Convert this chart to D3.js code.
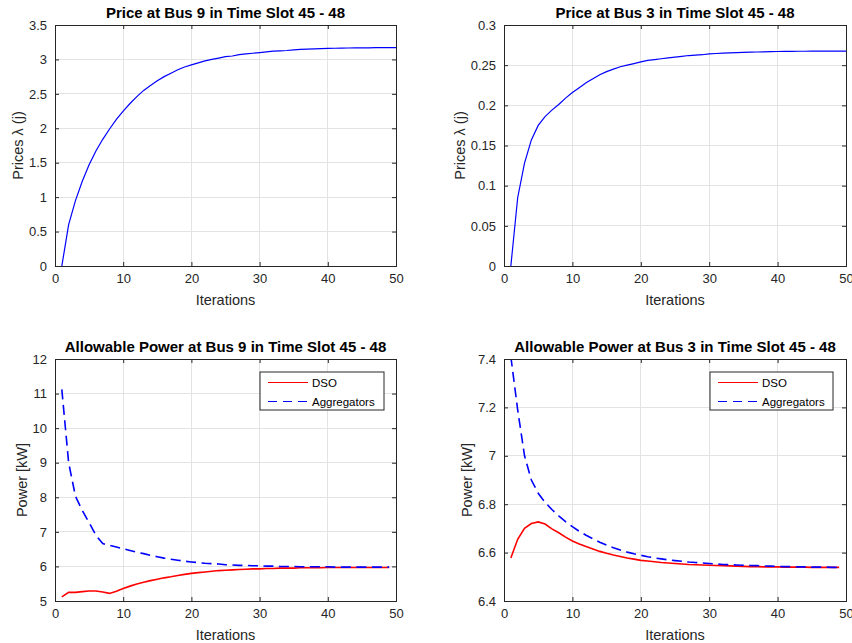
<!DOCTYPE html>
<html><head><meta charset="utf-8">
<script src="https://cdn.jsdelivr.net/npm/d3@7"></script>
<style>
body{margin:0;background:#fff;}
text{font-family:"Liberation Sans",Arial,Helvetica,sans-serif;}
</style></head>
<body><svg id="c" width="852" height="643"></svg>
<script>
const iterPrice = d3.range(1, 51);
const iterPower = d3.range(1, 50);

const priceBus9 = [0,0.60,0.95,1.23,1.47,1.67,1.84,1.99,2.13,2.25,2.36,2.46,2.55,2.62,2.69,2.75,2.80,2.85,2.89,2.92,2.95,2.98,3.00,3.02,3.04,3.05,3.07,3.08,3.09,3.10,3.11,3.12,3.125,3.13,3.14,3.145,3.15,3.153,3.156,3.16,3.162,3.164,3.166,3.167,3.168,3.169,3.17,3.17,3.171,3.171];
const priceBus3 = [0,0.085,0.128,0.157,0.175,0.186,0.194,0.201,0.209,0.216,0.222,0.228,0.233,0.238,0.242,0.245,0.248,0.250,0.252,0.254,0.256,0.257,0.258,0.259,0.260,0.261,0.262,0.2625,0.263,0.264,0.2645,0.265,0.2653,0.2656,0.266,0.2662,0.2664,0.2666,0.2668,0.267,0.2671,0.2672,0.2673,0.2673,0.2674,0.2674,0.2675,0.2675,0.2676,0.2676];

const dsoBus9 = [5.12,5.25,5.25,5.27,5.29,5.29,5.26,5.22,5.28,5.36,5.43,5.49,5.54,5.59,5.63,5.67,5.70,5.74,5.77,5.80,5.82,5.84,5.86,5.88,5.89,5.90,5.91,5.92,5.93,5.93,5.94,5.94,5.95,5.95,5.95,5.96,5.96,5.96,5.96,5.97,5.97,5.97,5.97,5.97,5.97,5.97,5.97,5.97,5.97];
const aggBus9 = [11.12,9.0,8.03,7.62,7.27,6.90,6.66,6.61,6.56,6.51,6.46,6.41,6.37,6.32,6.28,6.24,6.21,6.18,6.15,6.13,6.11,6.09,6.08,6.07,6.05,6.04,6.03,6.03,6.02,6.02,6.01,6.01,6.00,6.00,6.00,5.99,5.99,5.99,5.99,5.99,5.98,5.98,5.98,5.98,5.98,5.98,5.98,5.98,5.98];

const dsoBus3 = [6.578,6.655,6.700,6.720,6.727,6.718,6.698,6.682,6.664,6.648,6.636,6.625,6.615,6.605,6.597,6.590,6.584,6.578,6.573,6.568,6.565,6.562,6.559,6.557,6.555,6.553,6.551,6.550,6.549,6.548,6.547,6.546,6.545,6.544,6.543,6.542,6.542,6.541,6.541,6.541,6.540,6.540,6.540,6.540,6.539,6.539,6.539,6.539,6.539];
const aggBus3 = [7.41,7.19,7.00,6.90,6.845,6.808,6.778,6.752,6.728,6.707,6.688,6.672,6.657,6.643,6.631,6.620,6.611,6.602,6.595,6.589,6.583,6.578,6.574,6.570,6.567,6.564,6.561,6.559,6.557,6.555,6.553,6.551,6.550,6.549,6.548,6.547,6.546,6.545,6.544,6.543,6.542,6.542,6.541,6.541,6.540,6.540,6.540,6.539,6.539];

const xTicks = [0,10,20,30,40,50];
const yTicksP9 = [0,0.5,1,1.5,2,2.5,3,3.5];
const yTicksP3 = [0,0.05,0.1,0.15,0.2,0.25,0.3];
const yTicksW9 = [5,6,7,8,9,10,11,12];
const yTicksW3 = [6.4,6.6,6.8,7,7.2,7.4];

const titles = ["Price at Bus 9 in Time Slot 45 - 48","Price at Bus 3 in Time Slot 45 - 48","Allowable Power at Bus 9 in Time Slot 45 - 48","Allowable Power at Bus 3 in Time Slot 45 - 48"];
const legendLabels = ["DSO","Aggregators"];

const svg = d3.select("#c");
const AX = "#262626";

function panel(cfg){
  const {left,right,top,bottom,yDomain,yTicks,title,ylabel,ylabelX,series,legend} = cfg;
  const x = d3.scaleLinear().domain([0,50]).range([left,right]);
  const y = d3.scaleLinear().domain(yDomain).range([bottom,top]);
  const g = svg.append("g");
  g.append("g").selectAll("line").data(xTicks.slice(1,-1)).join("line")
    .attr("x1",d=>x(d)).attr("x2",d=>x(d)).attr("y1",top).attr("y2",bottom)
    .attr("stroke","#e3e3e3").attr("stroke-width",1).attr("shape-rendering","crispEdges");
  g.append("g").selectAll("line").data(yTicks.slice(1,-1)).join("line")
    .attr("y1",d=>y(d)).attr("y2",d=>y(d)).attr("x1",left).attr("x2",right)
    .attr("stroke","#e3e3e3").attr("stroke-width",1).attr("shape-rendering","crispEdges");
  const id = "clip"+Math.round(left)+"_"+Math.round(top);
  g.append("clipPath").attr("id",id).append("rect")
    .attr("x",left).attr("y",top).attr("width",right-left).attr("height",bottom-top);
  series.forEach(s=>{
    const line = d3.line().x((d,i)=>x(s.x[i])).y(d=>y(d));
    g.append("path").datum(s.y).attr("d",line).attr("fill","none")
      .attr("stroke",s.color).attr("stroke-width",s.width)
      .attr("stroke-dasharray",s.dash||null).attr("clip-path","url(#"+id+")");
  });
  const xa = g.append("g").attr("transform",`translate(0,${bottom})`)
    .call(d3.axisBottom(x).tickValues(xTicks).tickSize(-4).tickPadding(8).tickFormat(d3.format("d")));
  const xt = g.append("g").attr("transform",`translate(0,${top})`)
    .call(d3.axisTop(x).tickValues(xTicks).tickSize(-4).tickFormat(""));
  const ya = g.append("g").attr("transform",`translate(${left},0)`)
    .call(d3.axisLeft(y).tickValues(yTicks).tickSize(-4).tickPadding(8).tickFormat(d=>String(+d.toFixed(2))));
  const yr = g.append("g").attr("transform",`translate(${right},0)`)
    .call(d3.axisRight(y).tickValues(yTicks).tickSize(-4).tickFormat(""));
  [xa,xt,ya,yr].forEach(a=>{
    a.select(".domain").attr("stroke",AX).attr("stroke-width",1);
    a.selectAll(".tick line").attr("stroke",AX);
    a.selectAll(".tick text").attr("fill",AX).style("font-size","13px").style("font-family","'Liberation Sans',Arial,sans-serif");
  });
  xa.selectAll(".tick text").attr("dy","0.71em");
  g.append("text").attr("x",(left+right)/2).attr("y",top-7).attr("text-anchor","middle")
    .style("font-size","15px").style("font-weight","bold").attr("fill","#000").text(title);
  g.append("text").attr("x",(left+right)/2).attr("y",bottom+39).attr("text-anchor","middle")
    .style("font-size","14.5px").attr("fill",AX).text("Iterations");
  g.append("text").attr("transform",`translate(${ylabelX},${(top+bottom)/2}) rotate(-90)`)
    .attr("text-anchor","middle").style("font-size","14.5px").attr("fill",AX).text(ylabel);
  if(legend){
    const lg = g.append("g");
    lg.append("rect").attr("x",legend.x).attr("y",legend.y).attr("width",legend.w).attr("height",legend.h)
      .attr("fill","#fff").attr("stroke",AX).attr("stroke-width",1);
    series.forEach((s,i)=>{
      const yy = legend.y+10.5+i*19;
      lg.append("line").attr("x1",legend.x+8).attr("x2",legend.x+48).attr("y1",yy).attr("y2",yy)
        .attr("stroke",s.color).attr("stroke-width",1.2).attr("stroke-dasharray",s.dash?"9,6":null);
      lg.append("text").attr("x",legend.x+52).attr("y",yy).attr("dy","0.35em")
        .style("font-size","11.5px").attr("fill","#000").text(legendLabels[i]);
    });
  }
}

panel({left:55,right:396,top:25,bottom:266,yDomain:[0,3.5],yTicks:yTicksP9,title:titles[0],
  ylabel:"Prices λ (j)",ylabelX:23,
  series:[{x:iterPrice,y:priceBus9,color:"#0000ff",width:1.2}]});
panel({left:504,right:846,top:25,bottom:266,yDomain:[0,0.3],yTicks:yTicksP3,title:titles[1],
  ylabel:"Prices λ (j)",ylabelX:465,
  series:[{x:iterPrice,y:priceBus3,color:"#0000ff",width:1.2}]});
panel({left:55,right:396,top:359,bottom:601,yDomain:[5,12],yTicks:yTicksW9,title:titles[2],
  ylabel:"Power [kW]",ylabelX:27,
  series:[{x:iterPower,y:dsoBus9,color:"#ff0000",width:1.6},{x:iterPower,y:aggBus9,color:"#0000ff",width:1.6,dash:"10,5.5"}],
  legend:{x:260,y:372,w:124,h:38}});
panel({left:504,right:846,top:359,bottom:601,yDomain:[6.4,7.4],yTicks:yTicksW3,title:titles[3],
  ylabel:"Power [kW]",ylabelX:472,
  series:[{x:iterPower,y:dsoBus3,color:"#ff0000",width:1.6},{x:iterPower,y:aggBus3,color:"#0000ff",width:1.6,dash:"10,5.5"}],
  legend:{x:710,y:372,w:123,h:38}});
</script></body></html>
